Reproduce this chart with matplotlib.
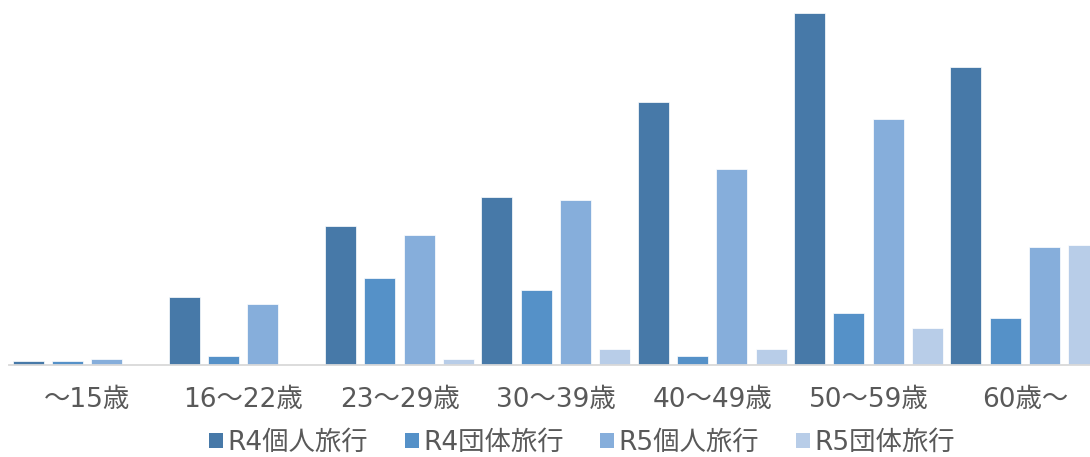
import matplotlib
matplotlib.use("Agg")
import matplotlib.pyplot as plt
from matplotlib.patches import Patch
import numpy as np

plt.rcParams['font.family'] = ['DejaVu Sans', 'Noto Sans CJK JP']

categories = ["～15歳", "16～22歳", "23～29歳", "30～39歳", "40～49歳", "50～59歳", "60歳～"]
series_names = ["R4個人旅行", "R4団体旅行", "R5個人旅行", "R5団体旅行"]
r4_individual = [4.3, 68, 139, 168, 263, 352, 298]
r4_group = [4.3, 8.7, 87, 75, 8.7, 52, 47]
r5_individual = [6.3, 61, 130, 165, 196, 246, 118]
r5_group = [0, 0, 6.3, 16, 16, 37, 120]
colors = ["#4779A8", "#5591C8", "#86AEDB", "#B8CDE8"]

W, H = 1090, 457
fig = plt.figure(figsize=(W / 100, H / 100), dpi=100)
left_px, right_px = 8.85, 1102.9
base_px, top_px = 365, 0
ax = fig.add_axes([left_px / W, (H - base_px) / H, (right_px - left_px) / W, (base_px - top_px) / H])

x = np.arange(len(categories))
step = 39.3 / 156.3
width = 31 / 156.3
all_series = [r4_individual, r4_group, r5_individual, r5_group]
for j, vals in enumerate(all_series):
    offs = (j - 1.5) * step
    ax.bar(x + offs, vals, width=width, color=colors[j], edgecolor="white", linewidth=0.5, zorder=2)

ax.set_xlim(-0.5, len(categories) - 0.5)
ax.set_ylim(0, 365)
for s in ["top", "right", "left"]:
    ax.spines[s].set_visible(False)
ax.spines["bottom"].set_color("#D9D9D9")
ax.spines["bottom"].set_linewidth(1.3)
ax.spines["bottom"].set_zorder(3)
ax.set_yticks([])
ax.set_xticks(x)
ax.set_xticklabels(categories, fontsize=19, color="#595959")
ax.tick_params(axis="x", length=0, pad=16)

handles = [Patch(facecolor=c, edgecolor="none") for c in colors]
fig.legend(handles, series_names, loc="center", bbox_to_anchor=(582 / W, 1 - 443 / H),
           ncol=4, frameon=False, fontsize=19, labelcolor="#595959",
           handlelength=0.53, handleheight=0.53, handletextpad=0.15, columnspacing=1.4,
           borderaxespad=0, borderpad=0)

fig.savefig("out.png", dpi=100)
